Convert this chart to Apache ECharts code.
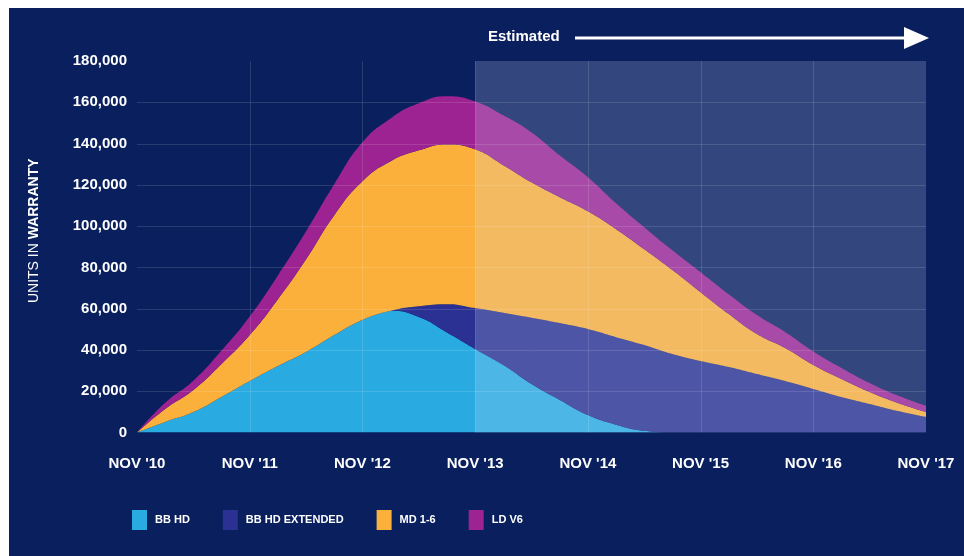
<!DOCTYPE html>
<html>
<head>
<meta charset="utf-8">
<script src="https://cdn.jsdelivr.net/npm/echarts@6/dist/echarts.min.js"></script>
<style>
  html, body { margin: 0; padding: 0; background: #ffffff; }
  #chart { width: 964px; height: 556px; }
</style>
</head>
<body>
<div id="chart"></div>
<script>
// Quarterly categories (labels shown once a year)
const categories = ["NOV '10","FEB '11","MAY '11","AUG '11","NOV '11","FEB '12","MAY '12","AUG '12",
  "NOV '12","FEB '13","MAY '13","AUG '13","NOV '13","FEB '14","MAY '14","AUG '14",
  "NOV '14","FEB '15","MAY '15","AUG '15","NOV '15","FEB '16","MAY '16","AUG '16",
  "NOV '16","FEB '17","MAY '17","AUG '17","NOV '17"];

const bbHD = [0,5100,9900,17200,24900,32200,39000,47200,54500,59000,56000,48500,40500,32700,23500,15800,
  8500,3800,800,0,0,0,0,0,0,0,0,0,0];
const bbHDExtended = [0,0,0,0,0,0,0,0,0,0,5200,13700,19800,25300,32100,37200,
  41600,42400,41600,38000,34600,31700,28300,24900,21100,17200,13800,10400,7500];
const md16 = [0,6300,10700,16000,22300,32400,45000,58100,67200,72400,75500,77400,76900,71500,65600,61000,
  57100,52300,46400,40700,33400,25700,19400,16000,11600,8700,5800,3900,2400];
const ldV6 = [0,3000,4500,6500,9000,11500,13500,15000,18900,20800,22800,23300,23200,24200,24200,20300,
  16500,12600,10700,9600,9700,9600,9200,7800,6600,5400,4400,3600,3000];

const seriesNames = ['BB HD', 'BB HD EXTENDED', 'MD 1-6', 'LD V6'];
const seriesColors = ['#29abe2', '#2a3192', '#fbb03b', '#9c2391'];
const yTicks = [20000,40000,60000,80000,100000,120000,140000,160000];
const yearCategories = ["NOV '11","NOV '12","NOV '13","NOV '14","NOV '15","NOV '16"];
const estimatedStart = "NOV '13";
const estimatedEnd = "NOV '17";
const yMax = 180000;

const chart = echarts.init(document.getElementById('chart'), null, { renderer: 'canvas' });
const dataSets = [bbHD, bbHDExtended, md16, ldV6];
const FONT = 'Liberation Sans, Arial, sans-serif';

const series = dataSets.map((d, i) => ({
  name: seriesNames[i],
  type: 'line',
  stack: 'total',
  smooth: 0.5,
  symbol: 'none',
  data: d,
  lineStyle: { width: 0 },
  areaStyle: { color: seriesColors[i], opacity: 1 },
  itemStyle: { color: seriesColors[i] },
  z: 2
}));

const baseGraphic = [
  { id: 'bg', type: 'rect', z: -100, shape: { x: 9, y: 8, width: 955, height: 548 }, style: { fill: '#0a1f5e' } },
  { id: 'est', type: 'text', z: 60, left: 488, top: 29, style: { text: 'Estimated', fill: '#ffffff', font: 'bold 15px ' + FONT } },
  { id: 'arrowLine', type: 'rect', z: 60, shape: { x: 575, y: 36.5, width: 332, height: 3 }, style: { fill: '#ffffff' } },
  { id: 'arrowHead', type: 'polygon', z: 60, shape: { points: [[904, 27], [929, 38], [904, 49]] }, style: { fill: '#ffffff' } }
];

const option = {
  backgroundColor: '#ffffff',
  animation: false,
  graphic: baseGraphic,
  grid: { left: 137, right: 38, top: 61, bottom: 123.5, containLabel: false },
  legend: {
    data: seriesNames,
    left: 127,
    top: 505,
    icon: 'rect',
    itemWidth: 15,
    itemHeight: 20,
    itemGap: 33,
    textStyle: { color: '#ffffff', fontWeight: 'bold', fontSize: 11, fontFamily: FONT, padding: [0, 0, 0, 3] }
  },
  xAxis: {
    type: 'category',
    data: categories,
    boundaryGap: false,
    axisLine: { show: false },
    axisTick: { show: false },
    splitLine: { show: false },
    axisLabel: {
      interval: 3,
      color: '#ffffff',
      fontWeight: 'bold',
      fontSize: 15,
      fontFamily: FONT,
      margin: 24
    }
  },
  yAxis: {
    type: 'value',
    min: 0,
    max: yMax,
    interval: 20000,
    axisLine: { show: false },
    axisTick: { show: false },
    splitLine: { show: false },
    axisLabel: {
      color: '#ffffff',
      fontWeight: 'bold',
      fontSize: 15,
      fontFamily: FONT,
      margin: 10,
      formatter: v => v.toLocaleString('en-US')
    },
    name: '{a|UNITS IN }{b|WARRANTY}',
    nameLocation: 'middle',
    nameGap: 96,
    nameRotate: 90,
    nameTextStyle: {
      color: '#ffffff',
      padding: [0, 0, 0, 32],
      rich: {
        a: { color: '#ffffff', fontSize: 14, fontFamily: FONT },
        b: { color: '#ffffff', fontSize: 14, fontWeight: 'bold', fontFamily: FONT }
      }
    }
  },
  series: series
};

chart.setOption(option);

// Overlay + grid lines drawn above the areas, positioned through the chart's own axes
const px = (c) => chart.convertToPixel({ xAxisIndex: 0 }, c);
const py = (v) => chart.convertToPixel({ yAxisIndex: 0 }, v);
const xL = px(categories[0]), xR = px(categories[categories.length - 1]);
const yB = py(0), yT = py(yMax);
const extra = [];
yTicks.forEach((v, i) => {
  extra.push({ id: 'hl' + i, type: 'line', z: 40, silent: true,
    shape: { x1: xL, y1: Math.round(py(v)) + 0.5, x2: xR, y2: Math.round(py(v)) + 0.5 },
    style: { stroke: 'rgba(255,255,255,0.13)', lineWidth: 1 } });
});
yearCategories.forEach((c, i) => {
  extra.push({ id: 'vl' + i, type: 'line', z: 40, silent: true,
    shape: { x1: Math.round(px(c)) + 0.5, y1: yT, x2: Math.round(px(c)) + 0.5, y2: yB },
    style: { stroke: 'rgba(255,255,255,0.13)', lineWidth: 1 } });
});
const xs = px(estimatedStart), xe = px(estimatedEnd);
extra.push({ id: 'overlay', type: 'rect', z: 45, silent: true,
  shape: { x: xs, y: yT, width: xe - xs, height: yB - yT },
  style: { fill: 'rgba(220,232,255,0.2)' } });
chart.setOption({ graphic: baseGraphic.concat(extra) });
</script>
</body>
</html>
